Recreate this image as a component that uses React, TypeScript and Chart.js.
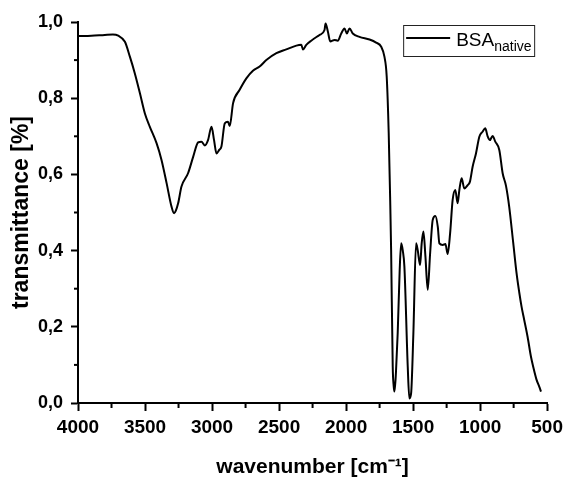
import React, { useEffect, useRef } from 'react';
import { Chart, registerables } from 'chart.js';

Chart.register(...registerables);

// ---- data ----
const wavenumbers = [
  3998, 3900, 3800, 3740, 3700, 3650, 3613, 3576, 3538, 3501, 3464, 3414, 3377, 3339, 3302, 3283,
  3270, 3253, 3228, 3179, 3141, 3104, 3079, 3054, 3030, 3004, 2985, 2967, 2945, 2930, 2905, 2881,
  2868, 2843, 2794, 2744, 2695, 2645, 2595, 2520, 2446, 2371, 2334, 2322, 2297, 2260, 2198, 2161,
  2153, 2136, 2118, 2086, 2062, 2036, 2012, 1994, 1974, 1950, 1900, 1825, 1776, 1738, 1714, 1697,
  1682, 1671, 1664, 1652, 1645, 1639, 1628, 1615, 1600, 1589, 1577, 1565, 1540, 1528, 1515, 1498,
  1478, 1466, 1448, 1436, 1423, 1408, 1391, 1373, 1354, 1334, 1316, 1304, 1279, 1259, 1242, 1224,
  1205, 1185, 1168, 1155, 1138, 1118, 1093, 1076, 1056, 1031, 1006, 982, 962, 944, 927, 907,
  887, 857, 832, 807, 783, 753, 728, 708, 691, 671, 646, 621, 604, 580, 559, 546,
];
const transmittance = [
  0.963, 0.964, 0.966, 0.967, 0.964, 0.948, 0.909, 0.865, 0.813, 0.760, 0.725, 0.682, 0.638, 0.577, 0.515, 0.498,
  0.505, 0.524, 0.568, 0.603, 0.646, 0.684, 0.686, 0.676, 0.690, 0.725, 0.690, 0.655, 0.665, 0.673, 0.734, 0.738,
  0.727, 0.787, 0.822, 0.852, 0.872, 0.883, 0.900, 0.918, 0.928, 0.938, 0.940, 0.928, 0.940, 0.951, 0.966, 0.979,
  0.996, 0.975, 0.949, 0.953, 0.951, 0.970, 0.983, 0.970, 0.983, 0.970, 0.961, 0.954, 0.946, 0.935, 0.909, 0.857,
  0.708, 0.533, 0.402, 0.095, 0.045, 0.030, 0.080, 0.183, 0.350, 0.419, 0.400, 0.358, 0.095, 0.012, 0.025, 0.183,
  0.419, 0.402, 0.362, 0.419, 0.450, 0.384, 0.297, 0.393, 0.480, 0.491, 0.463, 0.419, 0.415, 0.417, 0.391, 0.445,
  0.533, 0.559, 0.524, 0.559, 0.590, 0.563, 0.572, 0.581, 0.620, 0.655, 0.699, 0.712, 0.721, 0.700, 0.690, 0.701,
  0.686, 0.664, 0.603, 0.570, 0.515, 0.420, 0.340, 0.290, 0.253, 0.218, 0.174, 0.122, 0.095, 0.062, 0.043, 0.030,
];
const xTicks = [4000, 3500, 3000, 2500, 2000, 1500, 1000, 500];
const xMinorTicks = [3750, 3250, 2750, 2250, 1750, 1250, 750];
const yTicks = [0, 0.2, 0.4, 0.6, 0.8, 1.0];
const yMinorTicks = [0.1, 0.3, 0.5, 0.7, 0.9];
const seriesName = 'BSA';
const seriesSub = 'native';
const xTitle = 'wavenumber [cm⁻¹]';
const yTitle = 'transmittance [%]';

const FONT = "'Liberation Sans', Arial, sans-serif";

export default function App() {
  const ref = useRef<HTMLCanvasElement>(null);

  useEffect(() => {
    document.body.style.margin = '0';
    const canvas = ref.current!;

    const minorTicksPlugin = {
      id: 'minorTicks',
      afterDraw(chart: any) {
        const { ctx, chartArea, scales } = chart;
        ctx.save();
        ctx.strokeStyle = '#000';
        ctx.lineWidth = 2;
        xMinorTicks.forEach((v) => {
          const px = scales.x.getPixelForValue(v);
          ctx.beginPath();
          ctx.moveTo(px, chartArea.bottom);
          ctx.lineTo(px, chartArea.bottom + 5);
          ctx.stroke();
        });
        yMinorTicks.forEach((v) => {
          const py = scales.y.getPixelForValue(v);
          ctx.beginPath();
          ctx.moveTo(chartArea.left, py);
          ctx.lineTo(chartArea.left - 4, py);
          ctx.stroke();
        });
        ctx.restore();
      },
    };

    const legendPlugin = {
      id: 'subLegend',
      afterDraw(chart: any) {
        const { ctx, chartArea } = chart;
        const bw = 131;
        const bh = 31;
        const bx = chartArea.right - 13 - bw;
        const by = chartArea.top + 3;
        ctx.save();
        ctx.fillStyle = '#fff';
        ctx.fillRect(bx, by, bw, bh);
        ctx.strokeStyle = '#222';
        ctx.lineWidth = 1;
        ctx.strokeRect(bx + 0.5, by + 0.5, bw, bh);
        ctx.strokeStyle = '#000';
        ctx.lineWidth = 2;
        ctx.beginPath();
        ctx.moveTo(bx + 3, by + 13);
        ctx.lineTo(bx + 47, by + 13);
        ctx.stroke();
        ctx.fillStyle = '#000';
        ctx.textBaseline = 'alphabetic';
        ctx.textAlign = 'left';
        ctx.font = `19px ${FONT}`;
        ctx.fillText(seriesName, bx + 53, by + 21);
        const w = ctx.measureText(seriesName).width;
        ctx.font = `14px ${FONT}`;
        ctx.fillText(seriesSub, bx + 53 + w, by + 26);
        ctx.restore();
      },
    };

    const chart = new Chart(canvas, {
      type: 'line',
      data: {
        datasets: [
          {
            label: seriesName + seriesSub,
            data: wavenumbers.map((w, i) => ({ x: w, y: transmittance[i] })),
            borderColor: '#000',
            borderWidth: 2,
            pointRadius: 0,
            fill: false,
            cubicInterpolationMode: 'monotone',
          },
        ],
      },
      options: {
        animation: false,
        responsive: false,
        maintainAspectRatio: false,
        layout: { padding: { top: 22, right: 20, left: 0, bottom: 0 } },
        plugins: { legend: { display: false }, tooltip: { enabled: false } },
        scales: {
          x: {
            type: 'linear',
            reverse: true,
            min: 500,
            max: 4000,
            afterBuildTicks: (s: any) => {
              s.ticks = xTicks.map((v) => ({ value: v }));
            },
            afterFit: (s: any) => {
              s.height = 76;
            },
            border: { display: true, color: '#000', width: 2 },
            grid: { display: true, drawOnChartArea: false, drawTicks: true, tickLength: 8, tickColor: '#000', tickWidth: 2 },
            ticks: {
              color: '#000',
              padding: 5,
              maxRotation: 0,
              autoSkip: false,
              font: { family: FONT, size: 19, weight: 'bold' },
              callback: (v: any) => String(v),
            },
            title: {
              display: true,
              text: xTitle,
              color: '#000',
              padding: { top: 0, bottom: 1 },
              font: { family: FONT, size: 21, weight: 'bold', lineHeight: 1.0 },
            },
          },
          y: {
            type: 'linear',
            min: 0,
            max: 1.0,
            afterBuildTicks: (s: any) => {
              s.ticks = yTicks.map((v) => ({ value: v }));
            },
            afterFit: (s: any) => {
              s.width = 78;
            },
            border: { display: true, color: '#000', width: 2 },
            grid: { display: true, drawOnChartArea: false, drawTicks: true, tickLength: 7, tickColor: '#000', tickWidth: 2 },
            ticks: {
              color: '#000',
              padding: 8,
              autoSkip: false,
              font: { family: FONT, size: 18, weight: 'bold' },
              callback: (v: any) => Number(v).toFixed(1).replace('.', ','),
            },
            title: {
              display: true,
              text: yTitle,
              color: '#000',
              padding: { top: 8, bottom: 0 },
              font: { family: FONT, size: 23, weight: 'bold' },
            },
          },
        },
      },
      plugins: [minorTicksPlugin, legendPlugin],
    } as any);

    return () => chart.destroy();
  }, []);

  return <canvas ref={ref} width={568} height={479} style={{ display: 'block' }} />;
}
